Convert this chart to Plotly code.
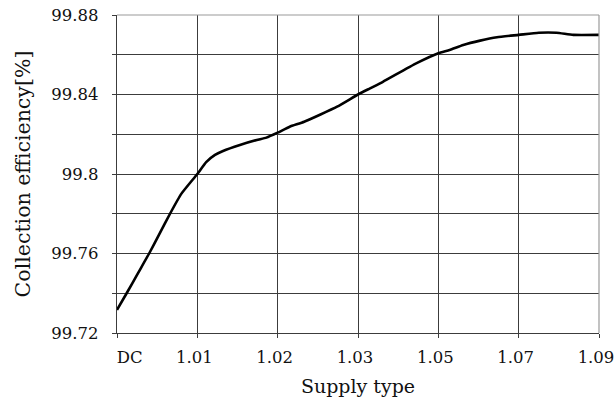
import plotly.graph_objects as go

# Supply types along the horizontal axis (evenly spaced categories)
supply_labels = ["DC", "1.01", "1.02", "1.03", "1.05", "1.07", "1.09"]

# Position along the category axis (0 = DC ... 6 = 1.09) and measured efficiency
curve_pos = [0.00, 0.12, 0.26, 0.40, 0.53, 0.66, 0.80, 1.00, 1.11, 1.22, 1.32,
             1.53, 1.74, 1.86, 2.00, 2.15, 2.33, 2.74, 3.00, 3.15, 3.31, 3.73,
             4.00, 4.14, 4.31, 4.52, 4.73, 5.00, 5.25, 5.47, 5.68, 6.00]
efficiency = [99.7316, 99.7400, 99.7500, 99.7600, 99.7700, 99.7800, 99.7900,
              99.8000, 99.8060, 99.8096, 99.8116, 99.8146, 99.8171, 99.8183,
              99.8208, 99.8238, 99.8263, 99.8339, 99.8400, 99.8431, 99.8464,
              99.8558, 99.8608, 99.8624, 99.8649, 99.8671, 99.8688, 99.8700,
              99.8711, 99.8711, 99.8700, 99.8700]

# Y grid every 0.02, labelled every 0.04
y_ticks = [99.72, 99.74, 99.76, 99.78, 99.80, 99.82, 99.84, 99.86, 99.88]
y_ticktext = ["99.72", "", "99.76", "", "99.8", "", "99.84", "", "99.88"]

FONT = "DejaVu Serif"
GRID = "#3c3c3c"
NBSP = "\u00a0"

# The first label sits to the right of its tick
x_ticktext = [NBSP * 6 + supply_labels[0]] + supply_labels[1:]

fig = go.Figure()
fig.add_trace(go.Scatter(
    x=curve_pos, y=efficiency, mode="lines",
    line=dict(color="#000000", width=2.6, shape="spline", smoothing=0.5),
    showlegend=False, hoverinfo="skip",
))

fig.update_layout(
    width=616, height=398,
    margin=dict(l=117, r=17, t=15, b=65, autoexpand=False),
    paper_bgcolor="white", plot_bgcolor="white",
    font=dict(family=FONT, size=16.5, color="#111111"),
    xaxis=dict(
        range=[0, 6], tickmode="array",
        tickvals=list(range(len(supply_labels))), ticktext=x_ticktext,
        showgrid=True, gridcolor=GRID, gridwidth=1.2,
        ticks="outside", ticklen=4, tickcolor=GRID,
        ticklabelstandoff=5, ticklabelshift=-3,
        ticklabeloverflow="allow", automargin=False,
        showline=True, linecolor=GRID, linewidth=1.2,
        mirror=False, zeroline=False,
        tickfont=dict(family=FONT, size=16.5),
        title=dict(text=NBSP * 2 + "Supply type", font=dict(family=FONT, size=19), standoff=13),
    ),
    yaxis=dict(
        range=[99.72, 99.88], tickmode="array",
        tickvals=y_ticks, ticktext=y_ticktext,
        showgrid=True, gridcolor=GRID, gridwidth=1.2,
        ticks="outside", ticklen=4, tickcolor=GRID,
        ticklabelstandoff=10, automargin=False,
        showline=True, linecolor=GRID, linewidth=1.2,
        zeroline=False,
        tickfont=dict(family=FONT, size=16.5),
        title=dict(text="Collection efficiency[%]", font=dict(family=FONT, size=20.5), standoff=15),
    ),
)

# Lighter frame on the top and right sides of the plot area
fig.add_shape(type="line", xref="paper", yref="paper", x0=0, x1=1, y0=1, y1=1,
              line=dict(color="#9a9a9a", width=1.2))
fig.add_shape(type="line", xref="paper", yref="paper", x0=1, x1=1, y0=0, y1=1,
              line=dict(color="#9a9a9a", width=1.2))

fig.write_html("out.html")
